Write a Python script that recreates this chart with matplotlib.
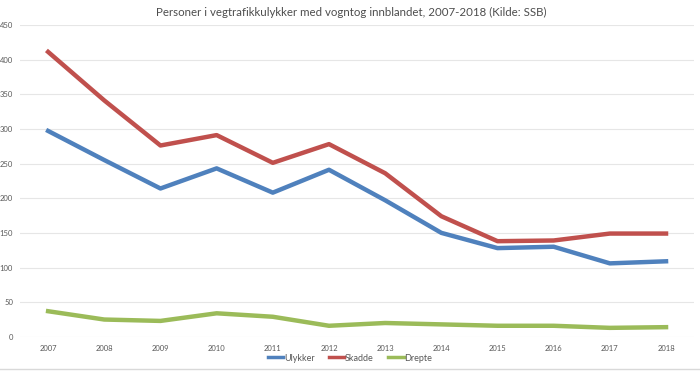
import matplotlib.pyplot as plt
import numpy as np

years = ['2007', '2008', '2009', '2010', '2011', '2012',
         '2013', '2014', '2015', '2016', '2017', '2018']
ulykker = [297, 255, 214, 243, 208, 241, 197, 150, 128, 130, 106, 109]
skadde = [411, 341, 276, 291, 251, 278, 236, 174, 138, 139, 149, 149]
drepte = [37, 25, 23, 34, 29, 16, 20, 18, 16, 16, 13, 14]

plt.rcParams['font.family'] = ['Lato', 'DejaVu Sans']

fig = plt.figure(figsize=(7, 3.71), dpi=100)
ax = fig.add_axes([0.0286, 0.092, 0.963, 0.841])

x = np.arange(len(years))
ax.plot(x, ulykker, color='#4f81bd', lw=3.2, label='Ulykker')
ax.plot(x, skadde, color='#c0504d', lw=3.2, label='Skadde')
ax.plot(x, drepte, color='#9bbb59', lw=3.2, label='Drepte')

ax.set_xlim(-0.5, len(years) - 0.5)
ax.set_ylim(0, 450)
ax.set_yticks(range(0, 451, 50))
ax.set_xticks(x)
ax.set_xticklabels(years)
ax.tick_params(length=0, labelsize=5.5, labelcolor='#595959', pad=6)
ax.tick_params(axis='y', pad=5)
ax.grid(axis='y', color='#e6e6e6', lw=0.8)
ax.set_axisbelow(True)
for s in ax.spines.values():
    s.set_visible(False)

fig.text(0.502, 0.966, 'Personer i vegtrafikkulykker med vogntog innblandet, 2007-2018 (Kilde: SSB)',
         ha='center', va='center', fontsize=8.3, color='#4d4d4d')

fig.legend(loc='center', bbox_to_anchor=(0.5, 0.035), ncol=3, frameon=False,
           fontsize=6.5, handlelength=1.7, handletextpad=0.1, columnspacing=1.6,
           labelcolor='#595959')
for h in fig.legends[0].get_lines():
    h.set_linewidth(2.5)

fig.add_artist(plt.Line2D([0, 1], [0.005, 0.005], color='#d9d9d9', lw=1))

fig.savefig('out.png', dpi=100)
